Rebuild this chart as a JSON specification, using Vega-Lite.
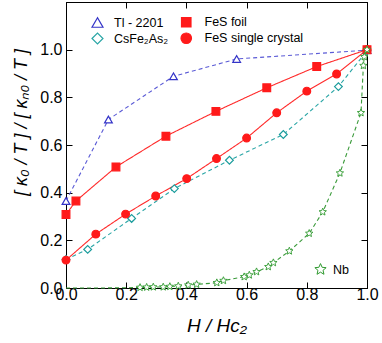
{
  "$schema": "https://vega.github.io/schema/vega-lite/v6.json",
  "autosize": {"type": "none"},
  "padding": {"left": 66, "top": 2, "right": 15, "bottom": 55},
  "width": 301,
  "height": 286,
  "background": "white",
  "config": {
    "view": {"stroke": "black", "strokeWidth": 1},
    "font": "Liberation Sans",
    "axis": {"grid": false, "domainColor": "black", "tickColor": "black", "labelColor": "black", "titleColor": "black", "labelFont": "Liberation Sans", "titleFont": "Liberation Sans", "labelFontSize": 16, "titleFontSize": 18, "titleFontWeight": "normal", "titleFontStyle": "italic", "labelFlush": false, "labelOverlap": false},
    "legend": {"labelFontSize": 12.5, "labelFont": "Liberation Sans", "labelColor": "black", "padding": 0, "symbolStrokeWidth": 1.2}
  },
  "data": {"values": [
    {"series": "Tl - 2201", "h": 0.0, "k": 0.365},
    {"series": "Tl - 2201", "h": 0.141, "k": 0.707},
    {"series": "Tl - 2201", "h": 0.357, "k": 0.888},
    {"series": "Tl - 2201", "h": 0.567, "k": 0.961},
    {"series": "Tl - 2201", "h": 1.0, "k": 0.998},
    {"series": "FeS foil", "h": 0.0, "k": 0.308},
    {"series": "FeS foil", "h": 0.033, "k": 0.365},
    {"series": "FeS foil", "h": 0.166, "k": 0.508},
    {"series": "FeS foil", "h": 0.332, "k": 0.637},
    {"series": "FeS foil", "h": 0.498, "k": 0.741},
    {"series": "FeS foil", "h": 0.667, "k": 0.84},
    {"series": "FeS foil", "h": 0.833, "k": 0.929},
    {"series": "FeS foil", "h": 1.0, "k": 1.0},
    {"series": "CsFe₂As₂", "h": 0.0, "k": 0.12},
    {"series": "CsFe₂As₂", "h": 0.072, "k": 0.162},
    {"series": "CsFe₂As₂", "h": 0.218, "k": 0.292},
    {"series": "CsFe₂As₂", "h": 0.36, "k": 0.417},
    {"series": "CsFe₂As₂", "h": 0.543, "k": 0.536},
    {"series": "CsFe₂As₂", "h": 0.722, "k": 0.644},
    {"series": "CsFe₂As₂", "h": 0.905, "k": 0.845},
    {"series": "CsFe₂As₂", "h": 1.0, "k": 0.995},
    {"series": "FeS single crystal", "h": 0.0, "k": 0.117},
    {"series": "FeS single crystal", "h": 0.099, "k": 0.226},
    {"series": "FeS single crystal", "h": 0.198, "k": 0.31},
    {"series": "FeS single crystal", "h": 0.298, "k": 0.386},
    {"series": "FeS single crystal", "h": 0.401, "k": 0.459},
    {"series": "FeS single crystal", "h": 0.5, "k": 0.543},
    {"series": "FeS single crystal", "h": 0.6, "k": 0.629},
    {"series": "FeS single crystal", "h": 0.7, "k": 0.735},
    {"series": "FeS single crystal", "h": 0.8, "k": 0.826},
    {"series": "FeS single crystal", "h": 0.899, "k": 0.898},
    {"series": "FeS single crystal", "h": 1.0, "k": 1.0},
    {"series": "Nb", "h": 0.0, "k": 0.0},
    {"series": "Nb", "h": 0.1, "k": 0.0},
    {"series": "Nb", "h": 0.2, "k": 0.001},
    {"series": "Nb", "h": 0.246, "k": 0.002},
    {"series": "Nb", "h": 0.268, "k": 0.003},
    {"series": "Nb", "h": 0.29, "k": 0.004},
    {"series": "Nb", "h": 0.323, "k": 0.004},
    {"series": "Nb", "h": 0.345, "k": 0.006},
    {"series": "Nb", "h": 0.373, "k": 0.008},
    {"series": "Nb", "h": 0.406, "k": 0.012},
    {"series": "Nb", "h": 0.434, "k": 0.015},
    {"series": "Nb", "h": 0.501, "k": 0.022},
    {"series": "Nb", "h": 0.523, "k": 0.031},
    {"series": "Nb", "h": 0.592, "k": 0.047},
    {"series": "Nb", "h": 0.609, "k": 0.054},
    {"series": "Nb", "h": 0.633, "k": 0.068},
    {"series": "Nb", "h": 0.672, "k": 0.089},
    {"series": "Nb", "h": 0.689, "k": 0.106},
    {"series": "Nb", "h": 0.742, "k": 0.155},
    {"series": "Nb", "h": 0.808, "k": 0.229},
    {"series": "Nb", "h": 0.853, "k": 0.319},
    {"series": "Nb", "h": 0.91, "k": 0.482},
    {"series": "Nb", "h": 0.98, "k": 0.735},
    {"series": "Nb", "h": 0.988, "k": 0.933},
    {"series": "Nb", "h": 0.991, "k": 0.97},
    {"series": "Nb", "h": 1.0, "k": 1.0}
  ]},
  "layer": [
    {
      "transform": [{"filter": "datum.series !== 'Nb'"}],
      "layer": [
        {
          "mark": {"type": "line", "strokeWidth": 1.1},
          "encoding": {
            "x": {"field": "h", "type": "quantitative", "scale": {"domain": [0, 1], "nice": false},
              "axis": {"orient": "bottom", "values": [0, 0.1, 0.2, 0.3, 0.4, 0.5, 0.6, 0.7, 0.8, 0.9, 1.0],
                "labelExpr": "round(datum.value*10)%2==0 ? format(datum.value,'.1f') : ''",
                "tickSize": {"condition": {"test": "round(datum.value*10)%2!=0", "value": -3}, "value": -6},
                "labelPadding": 4, "title": "H / Hc₂", "titlePadding": 14, "titleFontSize": 19}},
            "y": {"field": "k", "type": "quantitative", "scale": {"domain": [0, 1.2], "nice": false},
              "axis": {"orient": "left", "values": [0, 0.1, 0.2, 0.3, 0.4, 0.5, 0.6, 0.7, 0.8, 0.9, 1.0, 1.1],
                "labelExpr": "round(datum.value*10)%2==0 ? format(datum.value,'.1f') : ''",
                "tickSize": {"condition": {"test": "round(datum.value*10)%2!=0", "value": -3}, "value": -6},
                "labelPadding": 10, "title": "[ κ₀ / T ]  /  [ κₙ₀ / T ]", "titleFontSize": 18, "titlePadding": 9, "titleY": 120}},
            "color": {"field": "series", "type": "nominal",
              "scale": {"domain": ["CsFe₂As₂", "Tl - 2201", "FeS foil", "FeS single crystal"], "range": ["#2aa6a6", "#5b5bd6", "#ff2a2a", "#ff2a2a"]},
              "legend": {"title": null, "orient": "none", "legendX": 25, "legendY": 30, "values": ["CsFe₂As₂"], "symbolType": "diamond", "symbolSize": 120, "symbolFillColor": "white", "symbolStrokeColor": "#1a9c9c", "labelOffset": 10}},
            "strokeDash": {"field": "series", "type": "nominal",
              "scale": {"domain": ["FeS single crystal", "CsFe₂As₂", "Tl - 2201", "FeS foil"], "range": [[1, 0], [4, 3], [4, 3], [1, 0]]},
              "legend": {"title": null, "orient": "none", "legendX": 114, "legendY": 14, "values": ["FeS foil"], "symbolType": "square", "symbolSize": 90, "symbolFillColor": "#ff1a1a", "symbolStrokeColor": "#ff1a1a", "labelOffset": 12}}
          }
        },
        {
          "mark": {"type": "point", "strokeWidth": 1.2, "opacity": 1, "size": 60},
          "encoding": {
            "x": {"field": "h", "type": "quantitative"},
            "y": {"field": "k", "type": "quantitative"},
            "shape": {"field": "series", "type": "nominal",
              "scale": {"domain": ["Tl - 2201", "FeS foil", "CsFe₂As₂", "FeS single crystal"], "range": ["triangle-up", "square", "diamond", "circle"]},
              "legend": {"title": null, "orient": "none", "legendX": 25, "legendY": 14, "values": ["Tl - 2201"], "symbolSize": 120, "symbolFillColor": "white", "symbolStrokeColor": "#3434c8", "labelOffset": 10}},
            "stroke": {"field": "series", "type": "nominal",
              "scale": {"domain": ["FeS foil", "FeS single crystal", "Tl - 2201", "CsFe₂As₂"], "range": ["#ff1a1a", "#ff1a1a", "#3434c8", "#1a9c9c"]},
              "legend": {"title": null, "orient": "none", "legendX": 114, "legendY": 30, "values": ["FeS single crystal"], "symbolType": "circle", "symbolSize": 110, "symbolFillColor": "#ff1a1a", "labelOffset": 12}},
            "fill": {"field": "series", "type": "nominal", "legend": null,
              "scale": {"domain": ["Tl - 2201", "FeS foil", "CsFe₂As₂", "FeS single crystal"], "range": ["white", "#ff1a1a", "white", "#ff1a1a"]}}
          }
        }
      ]
    },
    {
      "transform": [{"filter": "datum.series === 'Nb'"}],
      "layer": [
        {
          "mark": {"type": "line", "strokeWidth": 1.1, "strokeDash": [4, 3]},
          "encoding": {
            "x": {"field": "h", "type": "quantitative",
              "axis": {"orient": "top", "values": [0, 0.1, 0.2, 0.3, 0.4, 0.5, 0.6, 0.7, 0.8, 0.9, 1.0], "labels": false, "title": null,
                "tickSize": {"condition": {"test": "round(datum.value*10)%2!=0", "value": -3}, "value": -6}}},
            "y": {"field": "k", "type": "quantitative",
              "axis": {"orient": "right", "values": [0, 0.1, 0.2, 0.3, 0.4, 0.5, 0.6, 0.7, 0.8, 0.9, 1.0, 1.1], "labels": false, "title": null,
                "tickSize": {"condition": {"test": "round(datum.value*10)%2!=0", "value": -3}, "value": -6}}},
            "color": {"value": "#3a9a3a"}
          }
        },
        {
          "transform": [{"filter": "datum.h > 0.22"}],
          "mark": {"type": "point", "strokeWidth": 0.9, "opacity": 1, "size": 60},
          "encoding": {
            "x": {"field": "h", "type": "quantitative"},
            "y": {"field": "k", "type": "quantitative"},
            "shape": {"field": "series", "type": "nominal", "scale": {"domain": ["Nb"], "range": ["M0,-1L0.27,-0.37L0.951,-0.309L0.43,0.14L0.588,0.809L0,0.45L-0.588,0.809L-0.43,0.14L-0.951,-0.309L-0.27,-0.37Z"]},
              "legend": {"title": null, "orient": "none", "legendX": 248, "legendY": 261, "symbolSize": 140, "symbolFillColor": "white", "symbolStrokeColor": "#2f9a2f", "symbolStrokeWidth": 1, "labelOffset": 6}},
            "stroke": {"field": "series", "type": "nominal", "legend": null, "scale": {"domain": ["Nb"], "range": ["#2f9a2f"]}},
            "fill": {"field": "series", "type": "nominal", "legend": null, "scale": {"domain": ["Nb"], "range": ["white"]}}
          }
        }
      ]
    }
  ],
  "resolve": {
    "scale": {"shape": "independent", "stroke": "independent", "fill": "independent", "color": "independent", "strokeDash": "independent"},
    "axis": {"x": "independent", "y": "independent"}
  }
}
